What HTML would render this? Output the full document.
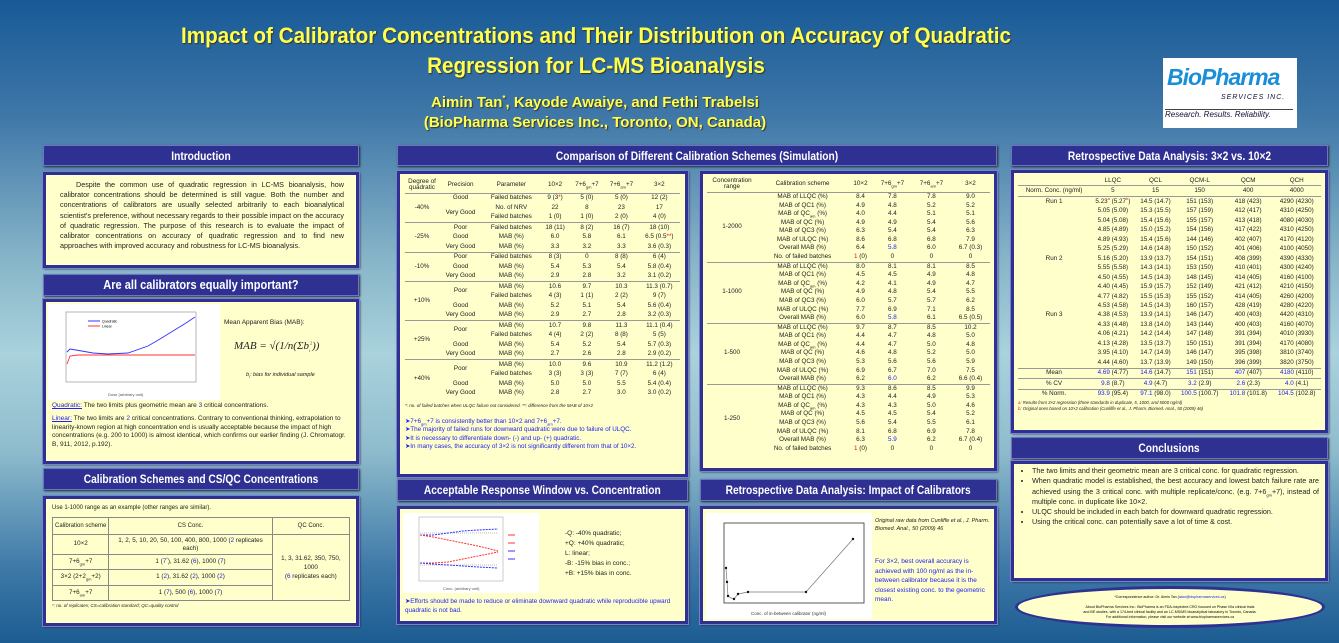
<!DOCTYPE html>
<html><head><meta charset="utf-8">
<style>
*{margin:0;padding:0;box-sizing:border-box}
body{width:1339px;height:643px;overflow:hidden;position:relative;font-family:"Liberation Sans",sans-serif;
background:linear-gradient(180deg,#185a96 0%,#3f77a8 18%,#86b4c8 40%,#a9d2dc 55%,#8fbccd 70%,#3f7aa8 88%,#1c5c92 100%);}
.t{position:absolute;color:#ffff4d;font-weight:bold;text-align:center;text-shadow:1px 1px 1px #333;white-space:nowrap}
.h{position:absolute;background:#2e3192;border:1px solid #6e74c0;color:#fff;font-weight:bold;text-align:center;font-size:12px;line-height:20px;box-shadow:1px 1px 2px #223;white-space:nowrap;overflow:hidden}
.h span{display:inline-block;transform:scaleX(0.85)}
.b{position:absolute;background:#ffffcc;border:3px solid #2e3192;outline:1px solid #7b80c8;color:#222;font-size:7px;box-shadow:1px 1px 2px #223;overflow:hidden}
table{border-collapse:collapse;width:100%}
td{text-align:center;font-size:6.3px;line-height:1;padding:1.6px 1px;white-space:nowrap}
sub,sup{font-size:4px;line-height:0}
.tt td{padding:1.15px 1px}
tr.s td{border-top:1px solid #999}
.bl{color:#2222ee}.rd{color:#e11}
.bul{color:#2222ee;font-size:7px;line-height:9px}
</style></head><body>

<div class="t" style="left:146px;top:21px;width:900px;font-size:22px;line-height:30px"><div style="transform:scaleX(0.94)">Impact of Calibrator Concentrations and Their Distribution on Accuracy of Quadratic<br>Regression for LC-MS Bioanalysis</div></div>
<div class="t" style="left:395px;top:93px;width:400px;font-size:15px;line-height:20px"><div>Aimin Tan<sup style="font-size:8px">*</sup>, Kayode Awaiye, and Fethi Trabelsi<br>(BioPharma Services Inc., Toronto, ON, Canada)</div></div>

<div style="position:absolute;left:1163px;top:58px;width:134px;height:70px;background:#fff">
<div style="position:absolute;left:4px;top:6px;font:italic bold 23px 'Liberation Sans',sans-serif;color:#1a8fd8;letter-spacing:-1px">BioPharma</div>
<div style="position:absolute;left:58px;top:36px;font:italic 7px 'Liberation Sans',sans-serif;color:#113;letter-spacing:1px">SERVICES INC.</div>
<div style="position:absolute;left:2px;top:51px;font:italic 8px 'Liberation Sans',sans-serif;color:#113;border-top:1px solid #444;width:128px">Research. Results. Reliability.</div>
</div>

<!-- LEFT COLUMN -->
<div class="h" style="left:43px;top:145px;width:316px;height:21px"><span>Introduction</span></div>
<div class="b" style="left:43px;top:172px;width:316px;height:96px;padding:5px 12px 0 14px;font-size:7.2px;line-height:10.2px;text-align:justify;text-indent:16px">Despite the common use of quadratic regression in LC-MS bioanalysis, how calibrator concentrations should be determined is still vague. Both the number and concentrations of calibrators are usually selected arbitrarily to each bioanalytical scientist's preference, without necessary regards to their possible impact on the accuracy of quadratic regression. The purpose of this research is to evaluate the impact of calibrator concentrations on accuracy of quadratic regression and to find new approaches with improved accuracy and robustness for LC-MS bioanalysis.</div>

<div class="h" style="left:43px;top:274px;width:316px;height:22px;font-size:13px"><span>Are all calibrators equally important?</span></div>
<div class="b" style="left:43px;top:299px;width:316px;height:165px">
<svg style="position:absolute;left:2px;top:2px" width="172" height="96" viewBox="0 0 172 96">
<rect width="172" height="96" fill="#fff"/>
<rect x="18" y="8" width="130" height="70" fill="none" stroke="#888" stroke-width="0.6"/>
<polyline points="19,48 22,45 28,46 45,49 60,50 80,49 100,42 112,35 125,27 138,19 147,13" fill="none" stroke="#33f" stroke-width="0.9"/>
<polyline points="19,60 22,52 30,51 147,51" fill="none" stroke="#f33" stroke-width="0.9"/>
<text x="60" y="92" font-size="4" fill="#555">Dose (arbitrary unit)</text>
<line x1="40" y1="17" x2="52" y2="17" stroke="#33f"/><line x1="40" y1="22" x2="52" y2="22" stroke="#f33"/>
<text x="54" y="18.5" font-size="3.5">Quadratic</text><text x="54" y="23.5" font-size="3.5">Linear</text>
</svg>
<div style="position:absolute;left:178px;top:17px;font-size:6.5px">Mean Apparent Bias (MAB):</div>
<div style="position:absolute;left:188px;top:38px;font:italic 11px 'Liberation Serif',serif">MAB = √(1/n(Σb<sub>i</sub><sup>2</sup>))</div>
<div style="position:absolute;left:200px;top:70px;font-size:5.5px;font-style:italic">b<sub>i</sub>: bias for individual sample</div>
<div style="position:absolute;left:6px;top:100px;width:300px;font-size:6.5px;line-height:8.8px"><span class="bl" style="text-decoration:underline">Quadratic:</span> The two limits plus geometric mean are <span class="bl">3</span> critical concentrations.<br><div style="height:4px"></div><span class="bl" style="text-decoration:underline">Linear:</span> The two limits are <span class="bl">2</span> critical concentrations. Contrary to conventional thinking, extrapolation to linearity-known region at high concentration end is usually acceptable because the impact of high concentrations (e.g. 200 to 1000) is almost identical, which confirms our earlier finding (J. Chromatogr. B, 911, 2012, p.192).</div>
</div>

<div class="h" style="left:43px;top:468px;width:316px;height:22px"><span>Calibration Schemes and CS/QC Concentrations</span></div>
<div class="b" style="left:43px;top:496px;width:316px;height:130px;padding:6px 6px">
<div style="font-size:6px;margin-bottom:6px">Use 1-1000 range as an example (other ranges are similar).</div>
<table style="border:1px solid #888">
<tr><td style="border:1px solid #888;padding:5px 2px;font-size:6px">Calibration scheme</td><td style="border:1px solid #888;font-size:6px">CS Conc.</td><td style="border:1px solid #888;font-size:6px">QC Conc.</td></tr>
<tr><td style="border:1px solid #888;padding:4px 1px">10×2</td><td style="border:1px solid #888;white-space:normal;line-height:8px">1, 2, 5, 10, 20, 50, 100, 400, 800, 1000 (<span class="bl">2</span> replicates each)</td><td rowspan="4" style="border:1px solid #888;white-space:normal;line-height:9px">1, 3, 31.62, 350, 750, 1000<br>(<span class="bl">6</span> replicates each)</td></tr>
<tr><td style="border:1px solid #888;padding:4px 1px">7+6<sub>gm</sub>+7</td><td style="border:1px solid #888">1 (<span class="bl">7</span><sup>*</sup>), 31.62 (<span class="bl">6</span>), 1000 (<span class="bl">7</span>)</td></tr>
<tr><td style="border:1px solid #888;padding:4px 1px">3×2 (2+2<sub>gm</sub>+2)</td><td style="border:1px solid #888">1 (<span class="bl">2</span>), 31.62 (<span class="bl">2</span>), 1000 (<span class="bl">2</span>)</td></tr>
<tr><td style="border:1px solid #888;padding:4px 1px">7+6<sub>am</sub>+7</td><td style="border:1px solid #888">1 (<span class="bl">7</span>), 500 (<span class="bl">6</span>), 1000 (<span class="bl">7</span>)</td></tr>
</table>
<div style="font-size:4.5px;font-style:italic;margin-top:2px"><span class="rd">*</span>: no. of replicates; CS=calibration standard; QC=quality control</div>
</div>

<!-- MIDDLE -->
<div class="h" style="left:397px;top:145px;width:600px;height:21px"><span>Comparison of Different Calibration Schemes (Simulation)</span></div>
<div class="b" style="left:397px;top:171px;width:291px;height:306px;padding:3px 5px">
<table>
<tr><td style="white-space:normal;width:34px">Degree of quadratic</td><td>Precision</td><td>Parameter</td><td>10×2</td><td>7+6<sub>gm</sub>+7</td><td>7+6<sub>am</sub>+7</td><td>3×2</td></tr>
<tr class="s"><td rowspan="3">-40%</td><td>Good</td><td>Failed batches</td><td>9 (3<span class="rd">*</span>)</td><td>5 (0)</td><td>5 (0)</td><td>12 (2)</td></tr>
<tr><td rowspan="2">Very Good</td><td>No. of NRV</td><td>22</td><td>8</td><td>23</td><td>17</td></tr>
<tr><td>Failed batches</td><td>1 (0)</td><td>1 (0)</td><td>2 (0)</td><td>4 (0)</td></tr>
<tr class="s"><td rowspan="3">-25%</td><td>Poor</td><td>Failed batches</td><td>18 (11)</td><td>8 (2)</td><td>16 (7)</td><td>18 (10)</td></tr>
<tr><td>Good</td><td>MAB (%)</td><td>6.0</td><td>5.8</td><td>6.1</td><td>6.5 (0.5<span class="rd">**</span>)</td></tr>
<tr><td>Very Good</td><td>MAB (%)</td><td>3.3</td><td>3.2</td><td>3.3</td><td>3.6 (0.3)</td></tr>
<tr class="s"><td rowspan="3">-10%</td><td>Poor</td><td>Failed batches</td><td>8 (3)</td><td>0</td><td>8 (8)</td><td>6 (4)</td></tr>
<tr><td>Good</td><td>MAB (%)</td><td>5.4</td><td>5.3</td><td>5.4</td><td>5.8 (0.4)</td></tr>
<tr><td>Very Good</td><td>MAB (%)</td><td>2.9</td><td>2.8</td><td>3.2</td><td>3.1 (0.2)</td></tr>
<tr class="s"><td rowspan="4">+10%</td><td rowspan="2">Poor</td><td>MAB (%)</td><td>10.6</td><td>9.7</td><td>10.3</td><td>11.3 (0.7)</td></tr>
<tr><td>Failed batches</td><td>4 (3)</td><td>1 (1)</td><td>2 (2)</td><td>9 (7)</td></tr>
<tr><td>Good</td><td>MAB (%)</td><td>5.2</td><td>5.1</td><td>5.4</td><td>5.6 (0.4)</td></tr>
<tr><td>Very Good</td><td>MAB (%)</td><td>2.9</td><td>2.7</td><td>2.8</td><td>3.2 (0.3)</td></tr>
<tr class="s"><td rowspan="4">+25%</td><td rowspan="2">Poor</td><td>MAB (%)</td><td>10.7</td><td>9.8</td><td>11.3</td><td>11.1 (0.4)</td></tr>
<tr><td>Failed batches</td><td>4 (4)</td><td>2 (2)</td><td>8 (8)</td><td>5 (5)</td></tr>
<tr><td>Good</td><td>MAB (%)</td><td>5.4</td><td>5.2</td><td>5.4</td><td>5.7 (0.3)</td></tr>
<tr><td>Very Good</td><td>MAB (%)</td><td>2.7</td><td>2.6</td><td>2.8</td><td>2.9 (0.2)</td></tr>
<tr class="s"><td rowspan="4">+40%</td><td rowspan="2">Poor</td><td>MAB (%)</td><td>10.0</td><td>9.6</td><td>10.9</td><td>11.2 (1.2)</td></tr>
<tr><td>Failed batches</td><td>3 (3)</td><td>3 (3)</td><td>7 (7)</td><td>6 (4)</td></tr>
<tr><td>Good</td><td>MAB (%)</td><td>5.0</td><td>5.0</td><td>5.5</td><td>5.4 (0.4)</td></tr>
<tr><td>Very Good</td><td>MAB (%)</td><td>2.8</td><td>2.7</td><td>3.0</td><td>3.0 (0.2)</td></tr>
</table>
<div style="font-size:4.5px;font-style:italic;margin:5px 0 10px">*: no. of failed batches when ULQC failure not considered. **: difference from the MAB of 10×2</div>
<div class="bul" style="font-size:6.3px;line-height:8.5px">➤7+6<sub>gm</sub>+7 is consistently better than 10×2 and 7+6<sub>am</sub>+7.<br>➤The majority of failed runs for downward quadratic were due to failure of ULQC.<br>➤It is necessary to differentiate down- (-) and up- (+) quadratic.<br>➤In many cases, the accuracy of 3×2 is not significantly different from that of 10×2.</div>
</div>

<div class="b" style="left:700px;top:171px;width:297px;height:300px;padding:3px 4px">
<table class="tt">
<tr><td style="white-space:normal;width:50px">Concentration range</td><td>Calibration scheme</td><td>10×2</td><td>7+6<sub>gm</sub>+7</td><td>7+6<sub>am</sub>+7</td><td>3×2</td></tr>
<tr class="s"><td rowspan="8">1-2000</td><td>MAB of LLQC (%)</td><td>8.4</td><td>7.8</td><td>7.8</td><td>9.0</td></tr>
<tr><td>MAB of QC1 (%)</td><td>4.9</td><td>4.8</td><td>5.2</td><td>5.2</td></tr>
<tr><td>MAB of QC<sub>am</sub> (%)</td><td>4.0</td><td>4.4</td><td>5.1</td><td>5.1</td></tr>
<tr><td>MAB of QC (%)</td><td>4.9</td><td>4.9</td><td>5.4</td><td>5.6</td></tr>
<tr><td>MAB of QC3 (%)</td><td>6.3</td><td>5.4</td><td>5.4</td><td>6.3</td></tr>
<tr><td>MAB of ULQC (%)</td><td>8.6</td><td>6.8</td><td>6.8</td><td>7.9</td></tr>
<tr><td>Overall MAB (%)</td><td>6.4</td><td class="bl">5.8</td><td>6.0</td><td>6.7 (0.3)</td></tr>
<tr><td>No. of failed batches</td><td><span class="rd">1</span> (0)</td><td>0</td><td>0</td><td>0</td></tr>
<tr class="s"><td rowspan="7">1-1000</td><td>MAB of LLQC (%)</td><td>8.0</td><td>8.1</td><td>8.1</td><td>8.5</td></tr>
<tr><td>MAB of QC1 (%)</td><td>4.5</td><td>4.5</td><td>4.9</td><td>4.8</td></tr>
<tr><td>MAB of QC<sub>am</sub> (%)</td><td>4.2</td><td>4.1</td><td>4.9</td><td>4.7</td></tr>
<tr><td>MAB of QC (%)</td><td>4.9</td><td>4.8</td><td>5.4</td><td>5.5</td></tr>
<tr><td>MAB of QC3 (%)</td><td>6.0</td><td>5.7</td><td>5.7</td><td>6.2</td></tr>
<tr><td>MAB of ULQC (%)</td><td>7.7</td><td>6.9</td><td>7.1</td><td>8.5</td></tr>
<tr><td>Overall MAB (%)</td><td>6.0</td><td class="bl">5.8</td><td>6.1</td><td>6.5 (0.5)</td></tr>
<tr class="s"><td rowspan="7">1-500</td><td>MAB of LLQC (%)</td><td>9.7</td><td>8.7</td><td>8.5</td><td>10.2</td></tr>
<tr><td>MAB of QC1 (%)</td><td>4.4</td><td>4.7</td><td>4.8</td><td>5.0</td></tr>
<tr><td>MAB of QC<sub>am</sub> (%)</td><td>4.4</td><td>4.7</td><td>5.0</td><td>4.8</td></tr>
<tr><td>MAB of QC (%)</td><td>4.6</td><td>4.8</td><td>5.2</td><td>5.0</td></tr>
<tr><td>MAB of QC3 (%)</td><td>5.3</td><td>5.6</td><td>5.6</td><td>5.9</td></tr>
<tr><td>MAB of ULQC (%)</td><td>6.9</td><td>6.7</td><td>7.0</td><td>7.5</td></tr>
<tr><td>Overall MAB (%)</td><td>6.2</td><td class="bl">6.0</td><td>6.2</td><td>6.6 (0.4)</td></tr>
<tr class="s"><td rowspan="8">1-250</td><td>MAB of LLQC (%)</td><td>9.3</td><td>8.6</td><td>8.5</td><td>9.9</td></tr>
<tr><td>MAB of QC1 (%)</td><td>4.3</td><td>4.4</td><td>4.9</td><td>5.3</td></tr>
<tr><td>MAB of QC<sub>am</sub> (%)</td><td>4.3</td><td>4.3</td><td>5.0</td><td>4.6</td></tr>
<tr><td>MAB of QC (%)</td><td>4.5</td><td>4.5</td><td>5.4</td><td>5.2</td></tr>
<tr><td>MAB of QC3 (%)</td><td>5.6</td><td>5.4</td><td>5.5</td><td>6.1</td></tr>
<tr><td>MAB of ULQC (%)</td><td>8.1</td><td>6.8</td><td>6.9</td><td>7.8</td></tr>
<tr><td>Overall MAB (%)</td><td>6.3</td><td class="bl">5.9</td><td>6.2</td><td>6.7 (0.4)</td></tr>
<tr><td>No. of failed batches</td><td><span class="rd">1</span> (0)</td><td>0</td><td>0</td><td>0</td></tr>
</table>
</div>

<div class="h" style="left:397px;top:479px;width:291px;height:22px"><span>Acceptable Response Window vs. Concentration</span></div>
<div class="b" style="left:397px;top:506px;width:291px;height:118px">
<svg style="position:absolute;left:3px;top:4px" width="136" height="80" viewBox="0 0 136 80">
<rect width="136" height="80" fill="#fff"/>
<rect x="16" y="4" width="84" height="64" fill="none" stroke="#999" stroke-width="0.5"/>
<polyline points="17,22 30,22 45,20 60,18 75,17 95,16" fill="none" stroke="#33f" stroke-dasharray="2,1"/>
<polyline points="17,22 30,24 45,27 60,30 75,33 95,38" fill="none" stroke="#f33" stroke-dasharray="2,1"/>
<polyline points="17,50 30,50 45,49 60,46 75,43 95,39" fill="none" stroke="#f33" stroke-dasharray="2,1"/>
<polyline points="17,50 30,51 45,52 60,53 75,54 95,55" fill="none" stroke="#33f" stroke-dasharray="2,1"/>
<polyline points="17,20 95,20" fill="none" stroke="#555" stroke-width="0.4" stroke-dasharray="1,1"/>
<polyline points="17,52 95,52" fill="none" stroke="#555" stroke-width="0.4" stroke-dasharray="1,1"/>
<line x1="105" y1="22" x2="112" y2="22" stroke="#f33"/><line x1="105" y1="30" x2="112" y2="30" stroke="#f33"/>
<line x1="105" y1="38" x2="112" y2="38" stroke="#33f"/><line x1="105" y1="46" x2="112" y2="46" stroke="#33f"/>
<text x="40" y="77" font-size="4" fill="#555">Conc. (arbitrary unit)</text>
</svg>
<div style="position:absolute;left:165px;top:20px;font-size:6.5px;line-height:10px">-Q: -40% quadratic;<br>+Q: +40% quadratic;<br>L: linear;<br>-B: -15% bias in conc.;<br>+B: +15% bias in conc.</div>
<div class="bul" style="position:absolute;left:5px;top:88px;width:280px;font-size:6.3px">➤Efforts should be made to reduce or eliminate downward quadratic while reproducible upward quadratic is not bad.</div>
</div>

<div class="h" style="left:700px;top:479px;width:297px;height:22px"><span>Retrospective Data Analysis: Impact of Calibrators</span></div>
<div class="b" style="left:700px;top:506px;width:297px;height:118px">
<svg style="position:absolute;left:3px;top:4px" width="166" height="106" viewBox="0 0 166 106">
<rect width="166" height="106" fill="#fff"/>
<rect x="18" y="10" width="140" height="80" fill="none" stroke="#333" stroke-width="0.8"/>
<polyline points="20,55 21,69 22,83 25,85 28,86 32,81 42,79 100,79 147,26" fill="none" stroke="#777" stroke-width="0.7"/>
<g fill="#111"><circle cx="20" cy="55" r="1.2"/><circle cx="21" cy="69" r="1.2"/><circle cx="22" cy="83" r="1.2"/><circle cx="28" cy="86" r="1.2"/><circle cx="32" cy="81" r="1.2"/><circle cx="42" cy="79" r="1.2"/><circle cx="100" cy="79" r="1.2"/><circle cx="147" cy="26" r="1.2"/></g>
<text x="45" y="102" font-size="4.5" fill="#333">Conc. of in-between calibrator (ng/ml)</text>
</svg>
<div style="position:absolute;left:172px;top:8px;width:118px;font-size:5.5px;font-style:italic;line-height:8px">Original raw data from Cunliffe et al., J. Pharm. Biomed. Anal., 50 (2009) 46</div>
<div class="bl" style="position:absolute;left:172px;top:48px;width:118px;font-size:6.5px;line-height:9.5px">For 3×2, best overall accuracy is achieved with 100 ng/ml as the in-between calibrator because it is the closest existing conc. to the geometric mean.</div>
</div>

<!-- RIGHT -->
<div class="h" style="left:1011px;top:145px;width:317px;height:21px"><span>Retrospective Data Analysis: 3×2 vs. 10×2</span></div>
<div class="b" style="left:1011px;top:170px;width:317px;height:263px;padding:3px 4px">
<table style="font-size:6px">
<tr><td></td><td>LLQC</td><td>QCL</td><td>QCM-L</td><td>QCM</td><td>QCH</td></tr>
<tr class="s"><td style="white-space:normal">Norm. Conc. (ng/ml)</td><td>5</td><td>15</td><td>150</td><td>400</td><td>4000</td></tr>
<tr class="s"><td>Run 1</td><td>5.23<sup class="rd">a</sup> (5.27<sup class="rd">b</sup>)</td><td>14.5 (14.7)</td><td>151 (153)</td><td>418 (423)</td><td>4290 (4230)</td></tr>
<tr><td></td><td>5.05 (5.09)</td><td>15.3 (15.5)</td><td>157 (159)</td><td>412 (417)</td><td>4310 (4250)</td></tr>
<tr><td></td><td>5.04 (5.08)</td><td>15.4 (15.6)</td><td>155 (157)</td><td>413 (418)</td><td>4080 (4030)</td></tr>
<tr><td></td><td>4.85 (4.89)</td><td>15.0 (15.2)</td><td>154 (156)</td><td>417 (422)</td><td>4310 (4250)</td></tr>
<tr><td></td><td>4.89 (4.93)</td><td>15.4 (15.6)</td><td>144 (146)</td><td>402 (407)</td><td>4170 (4120)</td></tr>
<tr><td></td><td>5.25 (5.29)</td><td>14.6 (14.8)</td><td>150 (152)</td><td>401 (406)</td><td>4100 (4050)</td></tr>
<tr><td>Run 2</td><td>5.16 (5.20)</td><td>13.9 (13.7)</td><td>154 (151)</td><td>408 (399)</td><td>4390 (4330)</td></tr>
<tr><td></td><td>5.55 (5.58)</td><td>14.3 (14.1)</td><td>153 (150)</td><td>410 (401)</td><td>4300 (4240)</td></tr>
<tr><td></td><td>4.50 (4.55)</td><td>14.5 (14.3)</td><td>148 (145)</td><td>414 (405)</td><td>4160 (4100)</td></tr>
<tr><td></td><td>4.40 (4.45)</td><td>15.9 (15.7)</td><td>152 (149)</td><td>421 (412)</td><td>4210 (4150)</td></tr>
<tr><td></td><td>4.77 (4.82)</td><td>15.5 (15.3)</td><td>155 (152)</td><td>414 (405)</td><td>4260 (4200)</td></tr>
<tr><td></td><td>4.53 (4.58)</td><td>14.5 (14.3)</td><td>160 (157)</td><td>428 (419)</td><td>4280 (4220)</td></tr>
<tr><td>Run 3</td><td>4.38 (4.53)</td><td>13.9 (14.1)</td><td>146 (147)</td><td>400 (403)</td><td>4420 (4310)</td></tr>
<tr><td></td><td>4.33 (4.48)</td><td>13.8 (14.0)</td><td>143 (144)</td><td>400 (403)</td><td>4160 (4070)</td></tr>
<tr><td></td><td>4.06 (4.21)</td><td>14.2 (14.4)</td><td>147 (148)</td><td>391 (394)</td><td>4010 (3930)</td></tr>
<tr><td></td><td>4.13 (4.28)</td><td>13.5 (13.7)</td><td>150 (151)</td><td>391 (394)</td><td>4170 (4080)</td></tr>
<tr><td></td><td>3.95 (4.10)</td><td>14.7 (14.9)</td><td>146 (147)</td><td>395 (398)</td><td>3810 (3740)</td></tr>
<tr><td></td><td>4.44 (4.60)</td><td>13.7 (13.9)</td><td>149 (150)</td><td>396 (399)</td><td>3820 (3750)</td></tr>
<tr class="s"><td>Mean</td><td><span class="bl">4.69</span> (4.77)</td><td><span class="bl">14.6</span> (14.7)</td><td><span class="bl">151</span> (151)</td><td><span class="bl">407</span> (407)</td><td><span class="bl">4180</span> (4110)</td></tr>
<tr class="s"><td>% CV</td><td><span class="bl">9.8</span> (8.7)</td><td><span class="bl">4.9</span> (4.7)</td><td><span class="bl">3.2</span> (2.9)</td><td><span class="bl">2.6</span> (2.3)</td><td><span class="bl">4.0</span> (4.1)</td></tr>
<tr class="s"><td>% Norm.</td><td><span class="bl">93.9</span> (95.4)</td><td><span class="bl">97.1</span> (98.0)</td><td><span class="bl">100.5</span> (100.7)</td><td><span class="bl">101.8</span> (101.8)</td><td><span class="bl">104.5</span> (102.8)</td></tr>
</table>
<div style="font-size:4.3px;font-style:italic;line-height:6px;margin-top:1px"><span class="rd">a</span>: Results from 3×2 regression (three standards in duplicate, 5, 1000, and 5000 ng/ml)<br><span class="rd">b</span>: Original ones based on 10×2 calibration (Cunliffe et al., J. Pharm. Biomed. Anal., 50 (2009) 46)</div>
</div>

<div class="h" style="left:1011px;top:437px;width:317px;height:22px"><span>Conclusions</span></div>
<div class="b" style="left:1011px;top:461px;width:317px;height:120px;padding:2px 6px 0 4px">
<ul style="font-size:7.2px;line-height:10.3px;padding-left:14px;text-align:justify">
<li>The two limits and their geometric mean are 3 critical conc. for quadratic regression.</li>
<li>When quadratic model is established, the best accuracy and lowest batch failure rate are achieved using the 3 critical conc. with multiple replicate/conc. (e.g. 7+6<sub>gm</sub>+7), instead of multiple conc. in duplicate like 10×2.</li>
<li>ULQC should be included in each batch for downward quadratic regression.</li>
<li>Using the critical conc. can potentially save a lot of time &amp; cost.</li>
</ul>
</div>
<div style="position:absolute;left:1015px;top:586px;width:310px;height:42px;border-radius:50%;background:#ffffcc;border:3px solid #2e3192;font-size:3.6px;text-align:center;line-height:5px;padding-top:6px">*Correspondence author: Dr. Aimin Tan (<span class="bl">atan@biopharmaservices.ca</span>)<br><br>About BioPharma Services Inc.: BioPharma is an FDA-inspected CRO focused on Phase I/IIa clinical trials<br>and BE studies, with a 174-bed clinical facility and an LC-MS/MS bioanalytical laboratory in Toronto, Canada.<br>For additional information, please visit our website at www.biopharmaservices.ca</div>
</body></html>
